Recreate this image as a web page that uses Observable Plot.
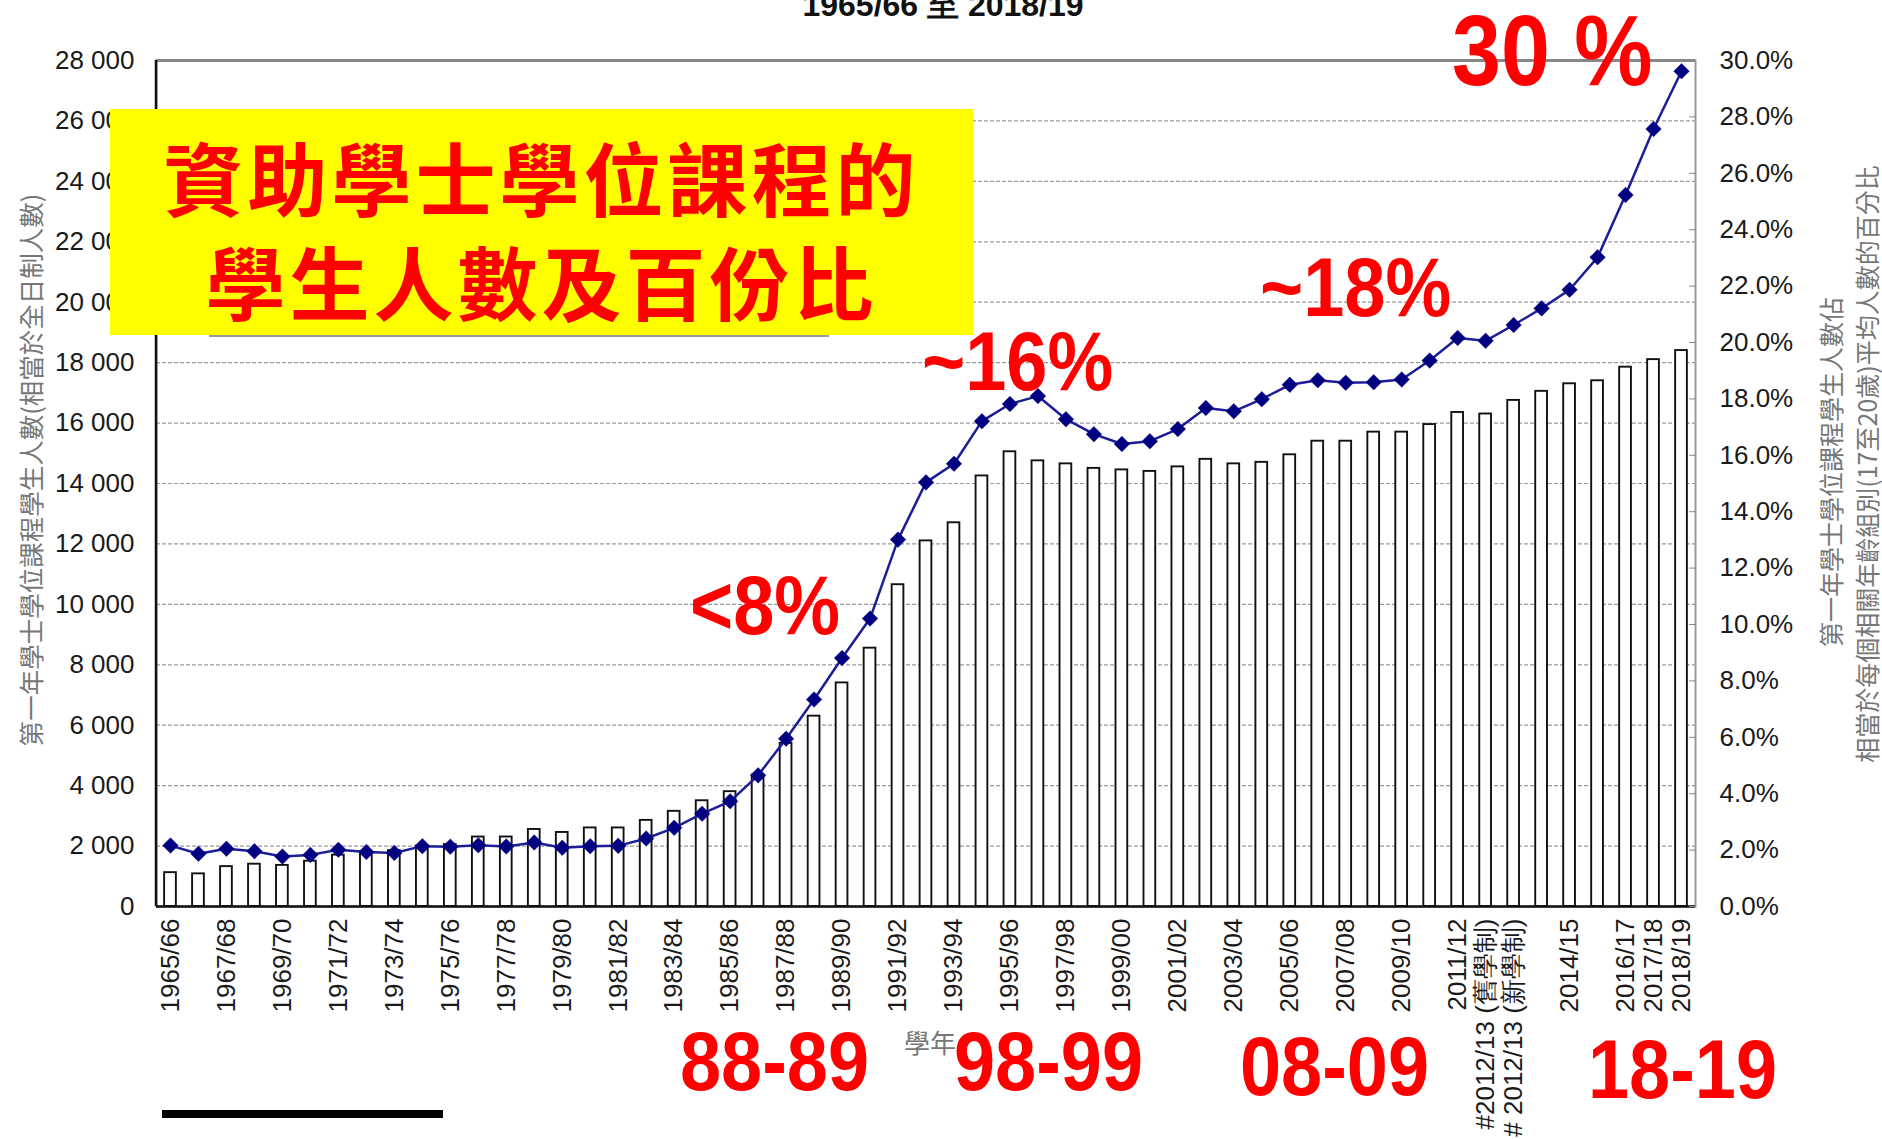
<!DOCTYPE html>
<html>
<head>
<meta charset="utf-8">
<script src="https://cdn.jsdelivr.net/npm/d3@7"></script>
<script src="https://cdn.jsdelivr.net/npm/@observablehq/plot@0.6"></script>
<style>
  html, body { margin: 0; padding: 0; background: #fff; }
  body { width: 1882px; height: 1139px; overflow: hidden; position: relative;
         font-family: "Liberation Sans", Arial, sans-serif; }
  #chart { position: absolute; left: 0; top: 0; }
  .abs { position: absolute; white-space: nowrap; line-height: 1; }
  .red { color: #ff0000; font-family: "Liberation Sans", Arial, sans-serif; font-weight: 700;
         transform-origin: 0 0; transform: scaleX(0.88); }
  .vt { color: #777; font-family: "Noto Sans CJK TC", "Noto Sans", sans-serif; font-size: 25px;
        transform: translate(-50%, -50%) rotate(-90deg); }
  #ybox { position: absolute; left: 110px; top: 109px; width: 863px; height: 226px; background: #ffff00;
          color: #ff0000; font-family: "Noto Sans CJK TC", sans-serif; font-weight: 700; font-size: 80px;
          text-align: center; box-sizing: border-box; padding-top: 14px; }
  #ybox div { line-height: 104px; letter-spacing: 4px; }
</style>
</head>
<body>
<div id="chart"></div>
<script>
// ---------- data ----------
const years = [
  "1965/66","1966/67","1967/68","1968/69","1969/70","1970/71","1971/72","1972/73","1973/74","1974/75",
  "1975/76","1976/77","1977/78","1978/79","1979/80","1980/81","1981/82","1982/83","1983/84","1984/85",
  "1985/86","1986/87","1987/88","1988/89","1989/90","1990/91","1991/92","1992/93","1993/94","1994/95",
  "1995/96","1996/97","1997/98","1998/99","1999/00","2000/01","2001/02","2002/03","2003/04","2004/05",
  "2005/06","2006/07","2007/08","2008/09","2009/10","2010/11","2011/12","#2012/13 (舊學制)","# 2012/13 (新學制)","2013/14",
  "2014/15","2015/16","2016/17","2017/18","2018/19"
];
// first-year students of UGC-funded degree programmes (FTE)
const students = [
  1120,1080,1320,1400,1360,1500,1700,1800,1850,2000,
  2050,2300,2300,2550,2450,2600,2600,2850,3150,3500,
  3800,4350,5400,6300,7400,8550,10650,12100,12700,14250,
  15050,14750,14650,14500,14450,14400,14550,14800,14650,14700,
  14950,15400,15400,15700,15700,15950,16350,16300,16750,17050,
  17300,17400,17850,18100,18400
];
// percentage of the average 17-20 age group population
const percents = [
  2.16,1.87,2.05,1.96,1.77,1.83,2.01,1.93,1.90,2.14,
  2.12,2.17,2.13,2.27,2.08,2.14,2.15,2.41,2.79,3.29,
  3.73,4.65,5.95,7.34,8.81,10.21,13.01,15.04,15.70,17.21,
  17.82,18.10,17.28,16.75,16.40,16.50,16.93,17.68,17.56,17.99,
  18.50,18.66,18.57,18.59,18.69,19.36,20.16,20.06,20.62,21.21,
  21.87,23.02,25.23,27.57,29.62
];
const tickLabels = [
  "1965/66","1967/68","1969/70","1971/72","1973/74","1975/76","1977/78","1979/80","1981/82","1983/84",
  "1985/86","1987/88","1989/90","1991/92","1993/94","1995/96","1997/98","1999/00","2001/02","2003/04",
  "2005/06","2007/08","2009/10","2011/12","#2012/13 (舊學制)","# 2012/13 (新學制)","2014/15","2016/17","2017/18","2018/19"
];
const countTicks = [0,2000,4000,6000,8000,10000,12000,14000,16000,18000,20000,22000,24000,26000,28000];
const pctTicks = [0,2,4,6,8,10,12,14,16,18,20,22,24,26,28,30];
const countMax = 28000;
const pctMax = 30;

// ---------- chart ----------
const k = countMax / pctMax;
const rows = years.map((year, i) => ({year, students: students[i], pct: percents[i]}));
const spaced = d => d3.format(",")(d).replace(/,/g, " ");

const chart = Plot.plot({
  width: 1882,
  height: 1139,
  marginLeft: 156,
  marginRight: 187,
  marginTop: 60,
  marginBottom: 233,
  style: {fontFamily: "'Liberation Sans', Arial, sans-serif", fontSize: "26px", color: "#1a1a1a", background: "transparent", overflow: "visible"},
  x: {type: "band", domain: years, paddingInner: 0.58, paddingOuter: 0.29, label: null},
  y: {domain: [0, countMax], label: null},
  marks: [
    Plot.gridY(countTicks.filter(d => d > 0 && d < countMax), {stroke: "#9a9a9a", strokeOpacity: 1, strokeWidth: 1.2, strokeDasharray: "4,2"}),
    Plot.frame({stroke: "#9a9a9a", strokeWidth: 2}),
    Plot.ruleY([countMax], {stroke: "#888", strokeWidth: 3}),
    Plot.barY(rows, {x: "year", y: "students", fill: "white", stroke: "#111", strokeWidth: 1.9}),
    Plot.line(rows, {x: "year", y: d => d.pct * k, stroke: "#1d1d97", strokeWidth: 2.5}),
    Plot.dot(rows, {x: "year", y: d => d.pct * k, symbol: "diamond2", r: 7, fill: "#000080", stroke: "#000080", strokeWidth: 0.5}),
    Plot.ruleY([0], {stroke: "#111", strokeWidth: 2.5}),
    Plot.axisY({anchor: "left", ticks: countTicks, tickFormat: spaced, tickSize: 0, tickPadding: 22, fontSize: 26, label: null}),
    Plot.axisY({anchor: "right", ticks: pctTicks.map(p => p * k), tickFormat: d => (d / k).toFixed(1) + "%", tickSize: -7, tickPadding: 31, stroke: "#888", fontSize: 26, label: null}),
    Plot.axisX({ticks: tickLabels, tickRotate: -90, tickSize: 0, tickPadding: 12, fontSize: 26, label: null})
  ]
});
document.getElementById("chart").append(chart);

// left axis line in black, using the plot's own scales
const sx = chart.scale("x"), sy = chart.scale("y");
d3.select(chart).append("line")
  .attr("x1", sx.range[0]).attr("x2", sx.range[0])
  .attr("y1", sy.range[0]).attr("y2", sy.range[1])
  .attr("stroke", "#111").attr("stroke-width", 2.5);
</script>

<!-- titles and annotations -->
<div class="abs" style="left:943px; top:-11px; transform:translateX(-50%); font-family:'Liberation Sans Narrow','Liberation Sans',Arial,sans-serif; font-weight:700; font-size:32px; color:#111;">1965/66 至 2018/19</div>

<div class="abs vt" style="left:30px; top:470px; font-size:25.5px;">第一年學士學位課程學生人數(相當於全日制人數)</div>
<div class="abs vt" style="left:1830px; top:472px;">第一年學士學位課程學生人數佔</div>
<div class="abs vt" style="left:1866px; top:464px;">相當於每個相關年齡組別(17至20歲)平均人數的百分比</div>
<div class="abs" style="left:930px; top:1042px; transform:translate(-50%,-50%); color:#777; font-family:'Noto Sans CJK TC',sans-serif; font-size:26px;">學年</div>

<div class="abs" style="left:209px; top:334px; width:620px; height:3px; background:#999;"></div>
<div id="ybox"><div>資助學士學位課程的</div><div>學生人數及百份比</div></div>

<div class="abs red" style="left:1452px; top:0px; font-size:100px;">30 %</div>
<div class="abs red" style="left:1260px; top:245px; font-size:84px;">~18%</div>
<div class="abs red" style="left:922px; top:319px; font-size:84px;">~16%</div>
<div class="abs red" style="left:690px; top:563px; font-size:84px;">&lt;8%</div>
<div class="abs red" style="left:680px; top:1019px; font-size:84px;">88-89</div>
<div class="abs red" style="left:954px; top:1019px; font-size:84px;">98-99</div>
<div class="abs red" style="left:1240px; top:1024px; font-size:84px;">08-09</div>
<div class="abs red" style="left:1588px; top:1027px; font-size:84px;">18-19</div>

<div class="abs" style="left:162px; top:1110px; width:281px; height:8px; background:#000;"></div>
</body>
</html>
